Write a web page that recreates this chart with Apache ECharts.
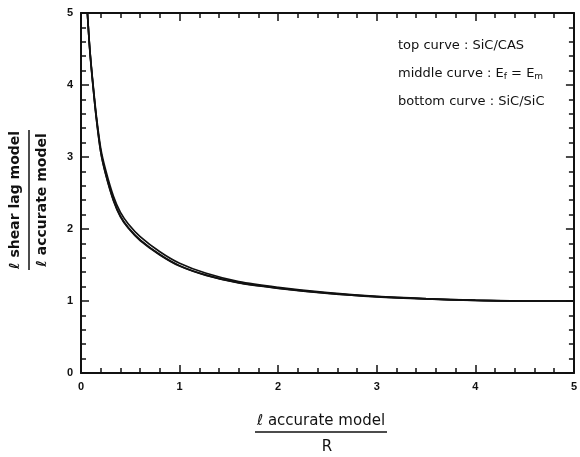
<!DOCTYPE html>
<html>
<head>
<meta charset="utf-8">
<script src="https://cdn.jsdelivr.net/npm/echarts@6/dist/echarts.min.js"></script>
<style>
  html, body { margin: 0; padding: 0; background: #fff; }
  #chart { width: 580px; height: 457px; }
</style>
</head>
<body>
<div id="chart"></div>
<script>
// ratio of fibre length
var xs = [0.065, 0.09, 0.12, 0.155, 0.2, 0.25, 0.33, 0.4, 0.48, 0.6, 0.8, 1.0, 1.27, 1.6, 2.0, 2.5, 3.0, 3.5, 4.0, 4.5, 5.0];
var topCurve = [5.0, 4.49, 4.04, 3.58, 3.12, 2.82, 2.45, 2.23, 2.07, 1.895, 1.685, 1.525, 1.385, 1.27, 1.19, 1.115, 1.063, 1.032, 1.011, 1.0, 1.0];
var midCurve = [5.0, 4.48, 4.02, 3.55, 3.08, 2.77, 2.40, 2.18, 2.02, 1.85, 1.645, 1.49, 1.36, 1.255, 1.18, 1.11, 1.06, 1.03, 1.01, 1.0, 1.0];
var botCurve = [5.0, 4.47, 4.01, 3.54, 3.07, 2.76, 2.39, 2.17, 2.01, 1.84, 1.64, 1.485, 1.355, 1.25, 1.175, 1.105, 1.057, 1.028, 1.008, 1.0, 1.0];
var xTicks = [0, 1, 2, 3, 4, 5];
var yTicks = [0, 1, 2, 3, 4, 5];
var legendLines = ['top curve : SiC/CAS', 'middle curve : {t|E}{s|f}{t| = E}{s|m}', 'bottom curve : SiC/SiC'];

function pairs(ys) {
  var out = [];
  for (var i = 0; i < xs.length; i++) {
    out.push([xs[i], ys[i]]);
  }
  return out;
}

function curve(name, ys) {
  return {
    name: name,
    type: 'line',
    data: pairs(ys),
    smooth: 0.3,
    showSymbol: false,
    animation: false,
    lineStyle: { color: '#111', width: 1.7 }
  };
}

var font = 'Liberation Sans, Arial, sans-serif';
var wide = 'DejaVu Sans, sans-serif';

function axisBase(showLabel, labels) {
  return {
    type: 'value',
    min: 0,
    max: 5,
    interval: 1,
    splitLine: { show: false },
    axisLine: { show: true, onZero: false, lineStyle: { color: '#111', width: 2 } },
    axisTick: { show: true, inside: true, length: 8, lineStyle: { color: '#111', width: 1.5 } },
    minorTick: { show: true, splitNumber: 5, length: 5, lineStyle: { color: '#111', width: 1.5 } },
    axisLabel: {
      show: showLabel,
      color: '#111',
      fontFamily: font,
      fontWeight: 'bold',
      fontSize: 11,
      margin: 8,
      formatter: function (v) { return labels.indexOf(v) >= 0 ? String(v) : ''; }
    }
  };
}

var xBottom = axisBase(true, xTicks);
xBottom.position = 'bottom';
var xTop = axisBase(false, xTicks);
xTop.position = 'top';
var yLeft = axisBase(true, yTicks);
yLeft.position = 'left';
var yRight = axisBase(false, yTicks);
yRight.position = 'right';

var legendText = [];
for (var i = 0; i < legendLines.length; i++) {
  legendText.push({
    type: 'text',
    x: 398,
    y: 45.5 + i * 28,
    style: {
      text: legendLines[i],
      font: '13px ' + wide,
      fill: '#111',
      verticalAlign: 'middle',
      rich: {
        t: { font: '13px ' + wide, fill: '#111' },
        s: { font: '9px ' + wide, fill: '#111', padding: [7, 0, 0, 0] }
      }
    }
  });
}

var option = {
  backgroundColor: '#fff',
  grid: { left: 81, right: 3, top: 13, bottom: 84 },
  xAxis: [xBottom, xTop],
  yAxis: [yLeft, yRight],
  series: [
    curve('top curve', topCurve),
    curve('middle curve', midCurve),
    curve('bottom curve', botCurve)
  ],
  graphic: legendText.concat([
    // x-axis title as a fraction
    {
      type: 'text', x: 321, y: 421,
      style: { text: 'ℓ accurate model', font: '15px ' + wide, fill: '#111', align: 'center', verticalAlign: 'middle' }
    },
    {
      type: 'line',
      shape: { x1: 255, y1: 432, x2: 387, y2: 432 },
      style: { stroke: '#111', lineWidth: 1.5 }
    },
    {
      type: 'text', x: 327, y: 447,
      style: { text: 'R', font: '15px ' + wide, fill: '#111', align: 'center', verticalAlign: 'middle' }
    },
    // y-axis title as a fraction (rotated)
    {
      type: 'text', x: 15, y: 200, rotation: Math.PI / 2,
      style: { text: 'ℓ shear lag model', font: 'bold 14px ' + wide, fill: '#111', align: 'center', verticalAlign: 'middle' }
    },
    {
      type: 'line',
      shape: { x1: 29, y1: 130, x2: 29, y2: 270 },
      style: { stroke: '#111', lineWidth: 1.5 }
    },
    {
      type: 'text', x: 42, y: 200, rotation: Math.PI / 2,
      style: { text: 'ℓ accurate model', font: 'bold 14px ' + wide, fill: '#111', align: 'center', verticalAlign: 'middle' }
    }
  ])
};

var myChart = echarts.init(document.getElementById('chart'));
myChart.setOption(option);
</script>
</body>
</html>
